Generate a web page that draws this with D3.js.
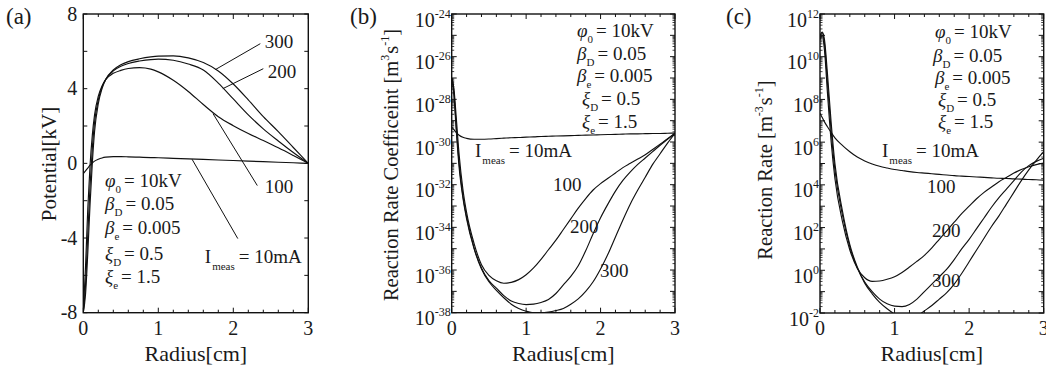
<!DOCTYPE html>
<html>
<head>
<meta charset="utf-8">
<script src="https://cdn.jsdelivr.net/npm/d3@7"></script>
<style>
  body { margin: 0; background: #fff; }
</style>
</head>
<body>
<script>
// ---- Potential profiles, panel (a) ----
const radiusA = [0, 0.03, 0.06, 0.09, 0.12, 0.15, 0.2, 0.25, 0.3, 0.4, 0.5, 0.6, 0.75, 0.9, 1.0, 1.2, 1.4, 1.6, 1.8, 2.0, 2.2, 2.4, 2.6, 2.8, 3.0];
const potential10mA = [-0.55, -0.4, -0.25, -0.1, 0.02, 0.12, 0.22, 0.29, 0.33, 0.36, 0.36, 0.35, 0.33, 0.31, 0.3, 0.27, 0.24, 0.21, 0.18, 0.15, 0.12, 0.09, 0.06, 0.03, 0];
const potential100 = [-8, -5.5, -2.4, -0.1, 1.5, 2.6, 3.6, 4.15, 4.5, 4.82, 4.98, 5.08, 5.13, 5.05, 4.9, 4.45, 3.85, 3.15, 2.5, 2.02, 1.6, 1.22, 0.83, 0.42, 0];
const potential200 = [-8, -6.5, -3.8, -1.2, 0.8, 2.2, 3.4, 4.1, 4.5, 4.95, 5.2, 5.35, 5.48, 5.56, 5.58, 5.52, 5.32, 5.0, 4.3, 3.45, 2.6, 1.85, 1.2, 0.58, 0];
const potential300 = [-8, -7, -4.8, -2.2, 0, 1.7, 3.2, 4.0, 4.5, 5.0, 5.28, 5.45, 5.6, 5.7, 5.74, 5.76, 5.65, 5.4, 4.95, 4.25, 3.4, 2.5, 1.7, 0.85, 0];

// ---- Reaction rate coefficient (b) and reaction rate (c): log10 of the value ----
const radiusBC = [0, 0.03, 0.06, 0.1, 0.15, 0.2, 0.3, 0.4, 0.5, 0.6, 0.7, 0.8, 0.9, 1.0, 1.1, 1.2, 1.3, 1.4, 1.5, 1.6, 1.7, 1.8, 1.9, 2.0, 2.1, 2.2, 2.3, 2.4, 2.5, 2.6, 2.7, 2.8, 2.9, 3.0];
const coefExp10mA = [-29.3, -29.42, -29.55, -29.68, -29.78, -29.83, -29.87, -29.87, -29.86, -29.84, -29.82, -29.8, -29.79, -29.77, -29.76, -29.74, -29.73, -29.72, -29.71, -29.7, -29.69, -29.68, -29.67, -29.66, -29.65, -29.64, -29.63, -29.62, -29.62, -29.61, -29.6, -29.6, -29.59, -29.58];
const coefExp100 = [-27.0, -27.5, -28.8, -30.6, -32.2, -33.3, -34.75, -35.75, -36.25, -36.5, -36.62, -36.58, -36.45, -36.22, -35.9, -35.5, -35.05, -34.6, -34.1, -33.6, -33.1, -32.65, -32.25, -31.95, -31.7, -31.45, -31.2, -31.0, -30.8, -30.6, -30.35, -30.1, -29.85, -29.59];
const coefExp200 = [-27.0, -27.7, -29.2, -31.0, -32.5, -33.5, -34.95, -35.9, -36.5, -36.85, -37.2, -37.45, -37.57, -37.62, -37.6, -37.52, -37.38, -37.1, -36.7, -36.3, -35.8, -35.1, -34.3, -33.55, -32.9, -32.3, -31.8, -31.4, -31.05, -30.75, -30.45, -30.15, -29.87, -29.59];
const coefExp300 = [-27.0, -27.8, -29.4, -31.2, -32.6, -33.6, -35.0, -35.95, -36.55, -36.95, -37.3, -37.6, -37.8, -37.93, -38.0, -38.0, -37.97, -37.9, -37.8, -37.6, -37.35, -37.0, -36.55, -35.95, -35.25, -34.45, -33.65, -32.9, -32.25, -31.65, -31.05, -30.55, -30.05, -29.59];
const rateExp10mA = [7.35, 7.15, 6.95, 6.72, 6.45, 6.2, 5.85, 5.55, 5.3, 5.12, 4.98, 4.87, 4.79, 4.72, 4.67, 4.62, 4.58, 4.55, 4.52, 4.49, 4.46, 4.43, 4.41, 4.39, 4.37, 4.35, 4.33, 4.31, 4.3, 4.28, 4.27, 4.25, 4.24, 4.22];
const rateExp100 = [10.8, 11.0, 10.3, 8.3, 6.0, 4.3, 2.3, 0.95, 0.1, -0.35, -0.52, -0.5, -0.42, -0.3, -0.1, 0.15, 0.42, 0.7, 1.05, 1.45, 1.85, 2.25, 2.65, 3.0, 3.35, 3.65, 3.9, 4.15, 4.35, 4.55, 4.72, 4.85, 4.95, 5.02];
const rateExp200 = [10.9, 11.1, 10.6, 8.8, 6.5, 4.7, 2.6, 1.1, 0.1, -0.55, -1.0, -1.35, -1.57, -1.68, -1.7, -1.6, -1.35, -1.0, -0.65, -0.3, 0.05, 0.5, 1.0, 1.45, 1.95, 2.45, 2.95, 3.4, 3.8, 4.2, 4.6, 4.9, 5.1, 5.25];
const rateExp300 = [11.0, 11.15, 10.8, 9.2, 6.9, 5.0, 2.8, 1.2, 0.15, -0.6, -1.1, -1.5, -1.8, -2.05, -2.2, -2.25, -2.15, -1.9, -1.65, -1.35, -1.05, -0.65, -0.15, 0.4, 0.95, 1.5, 2.05, 2.55, 3.1, 3.65, 4.2, 4.7, 5.15, 5.55];

// ---- Axis ticks and labels ----
const radiusTicks = [0, 1, 2, 3];
const potentialTicks = [-8, -4, 0, 4, 8];
const coefDecadeLabels = [-38, -36, -34, -32, -30, -28, -26, -24];
const rateDecadeLabels = [-2, 0, 2, 4, 6, 8, 10, 12];

// ---- Parameter block ----
const paramSymbols = ["φ", "β", "β", "ξ", "ξ"];
const paramSubs = ["0", "D", "e", "D", "e"];
const paramValues = ["= 10kV", "= 0.05", "= 0.005", "= 0.5", "= 1.5"];

const W = 1046, H = 373;
const SERIF = "'Liberation Serif', 'Tinos', 'Times New Roman', 'DejaVu Serif', serif";
const svg = d3.select("body").append("svg").attr("width", W).attr("height", H)
  .attr("font-family", SERIF).style("font-family", SERIF);
const INK = "#111";

const toPoints = (rs, vs, log) => rs.map((r, i) => ({ r, v: log ? Math.pow(10, vs[i]) : vs[i] }));

function txt(g) {
  return g.append("text").attr("font-family", SERIF).attr("fill", "#1a1a1a");
}

function drawFrame(g, x, y) {
  const [x0, x1] = x.range(), [y0, y1] = y.range();
  g.append("rect").attr("x", x0).attr("y", y1).attr("width", x1 - x0).attr("height", y0 - y1)
    .attr("fill", "none").attr("stroke", INK).attr("stroke-width", 1.4);
}

function tick(g, x1, y1, x2, y2, w) {
  g.append("line").attr("x1", x1).attr("y1", y1).attr("x2", x2).attr("y2", y2)
    .attr("stroke", INK).attr("stroke-width", w || 1);
}

function drawXAxis(g, x, y) {
  const [y0, y1] = y.range();
  d3.range(0, 3.0001, 0.2).forEach(v => {
    const major = Math.abs(v - Math.round(v)) < 1e-6;
    const len = major ? 5 : 3;
    tick(g, x(v), y0, x(v), y0 - len);
    tick(g, x(v), y1, x(v), y1 + len);
  });
  radiusTicks.forEach(v => {
    txt(g).attr("x", x(v)).attr("y", y0 + 22).attr("text-anchor", "middle")
      .attr("font-size", 20).text(v);
  });
}

function drawLogYAxis(g, x, y, labelExps) {
  const [x0, x1] = x.range();
  const [lo, hi] = y.domain().map(Math.log10);
  for (let k = Math.round(lo); k <= Math.round(hi); k++) {
    tick(g, x0, y(Math.pow(10, k)), x0 + 5, y(Math.pow(10, k)));
    tick(g, x1, y(Math.pow(10, k)), x1 - 5, y(Math.pow(10, k)));
    if (k < Math.round(hi)) {
      for (let m = 2; m <= 9; m++) {
        const yy = y(m * Math.pow(10, k));
        tick(g, x0, yy, x0 + 2.5, yy, 0.8);
        tick(g, x1, yy, x1 - 2.5, yy, 0.8);
      }
    }
  }
  labelExps.forEach(k => {
    const t = txt(g).attr("x", x0 - 1).attr("y", y(Math.pow(10, k)) + 12.5)
      .attr("text-anchor", "end").attr("font-size", 20);
    t.append("tspan").text("10");
    t.append("tspan").attr("font-size", 12).attr("dy", -9).text(k);
  });
}

function drawCurves(g, x, y, series, clipId) {
  const [x0, x1] = x.range(), [y0, y1] = y.range();
  g.append("clipPath").attr("id", clipId).append("rect")
    .attr("x", x0).attr("y", y1).attr("width", x1 - x0).attr("height", y0 - y1);
  const line = d3.line().x(d => x(d.r)).y(d => y(d.v)).curve(d3.curveMonotoneX);
  const cg = g.append("g").attr("clip-path", `url(#${clipId})`);
  series.forEach(s => {
    cg.append("path").datum(s).attr("d", line).attr("fill", "none")
      .attr("stroke", INK).attr("stroke-width", 1.15);
  });
}

function drawParams(g, xs, baselines) {
  paramSymbols.forEach((sym, i) => {
    const t = txt(g).attr("x", xs[i]).attr("y", baselines[i]).attr("font-size", 19);
    t.append("tspan").attr("font-style", "italic").text(sym);
    t.append("tspan").attr("font-size", 11).attr("dy", 6).text(paramSubs[i]);
    t.append("tspan").attr("dy", -6).attr("dx", 3).text(paramValues[i]);
  });
}

function drawCurrentLabel(g, xPos, yPos) {
  const t = txt(g).attr("x", xPos).attr("y", yPos).attr("font-size", 19);
  t.append("tspan").text("I");
  t.append("tspan").attr("font-size", 11).attr("dy", 7).attr("dx", 1).text("meas");
  t.append("tspan").attr("dy", -7).attr("dx", 4).text("= 10mA");
}

function plainLabel(g, xPos, yPos, s) {
  txt(g).attr("x", xPos).attr("y", yPos).attr("font-size", 19).text(s);
}

function panelTag(g, xPos, s) {
  txt(g).attr("x", xPos).attr("y", 24).attr("font-size", 23).text(s);
}

function xTitle(g, x) {
  const [x0, x1] = x.range();
  txt(g).attr("x", (x0 + x1) / 2).attr("y", 361).attr("text-anchor", "middle")
    .attr("font-size", 22).text("Radius[cm]");
}

// ================= Panel (a) =================
{
  const g = svg.append("g");
  const x = d3.scaleLinear().domain([0, 3]).range([83.3, 308.3]);
  const y = d3.scaleLinear().domain([-8, 8]).range([312.7, 14]);
  drawCurves(g, x, y, [
    toPoints(radiusA, potential10mA), toPoints(radiusA, potential100),
    toPoints(radiusA, potential200), toPoints(radiusA, potential300)], "clipA");
  drawFrame(g, x, y);
  drawXAxis(g, x, y);
  d3.range(-8, 8.001, 2).forEach(v => {
    tick(g, x.range()[0], y(v), x.range()[0] + 4, y(v));
    tick(g, x.range()[1], y(v), x.range()[1] - 4, y(v));
  });
  potentialTicks.forEach(v => {
    txt(g).attr("x", x.range()[0] - 6).attr("y", y(v) + 6.5).attr("text-anchor", "end")
      .attr("font-size", 20).text(v);
  });
  txt(g).attr("transform", `translate(56,${164}) rotate(-90)`).attr("text-anchor", "middle")
    .attr("font-size", 21).text("Potential[kV]");
  xTitle(g, x);
  panelTag(g, 6, "(a)");

  // leader lines from labels to curves (data coordinates)
  const leaders = [[2.36, 6.41, 1.76, 5.02], [2.40, 5.07, 1.86, 4.0], [2.32, -1.19, 1.73, 2.66], [2.06, -4.03, 1.45, 0.22]];
  leaders.forEach(([ra, va, rb, vb]) => tick(g, x(ra), y(va), x(rb), y(vb), 1));
  plainLabel(g, x(2.42), y(6.2), "300");
  plainLabel(g, x(2.46), y(4.59), "200");
  plainLabel(g, x(2.42), y(-1.57), "100");
  drawCurrentLabel(g, x(1.62), y(-5.32));
  drawParams(g, [105, 105, 105, 105, 105], [187, 210, 234, 260, 283]);
}

// ================= Panel (b) =================
{
  const g = svg.append("g");
  const x = d3.scaleLinear().domain([0, 3]).range([451.7, 675]);
  const y = d3.scaleLog().domain([1e-38, 1e-24]).range([312.7, 14]);
  drawCurves(g, x, y, [
    toPoints(radiusBC, coefExp10mA, true), toPoints(radiusBC, coefExp100, true),
    toPoints(radiusBC, coefExp200, true), toPoints(radiusBC, coefExp300, true)], "clipB");
  drawFrame(g, x, y);
  drawXAxis(g, x, y);
  drawLogYAxis(g, x, y, coefDecadeLabels);
  const t = txt(g).attr("transform", `translate(398,${165}) rotate(-90)`)
    .attr("text-anchor", "middle").attr("font-size", 20.5);
  t.append("tspan").text("Reaction Rate Coefficeint [m");
  t.append("tspan").attr("font-size", 12).attr("dy", -9).text("3");
  t.append("tspan").attr("dy", 9).attr("dx", 1).text("s");
  t.append("tspan").attr("font-size", 12).attr("dy", -9).text("-1");
  t.append("tspan").attr("dy", 9).text("]");
  xTitle(g, x);
  panelTag(g, 350, "(b)");
  plainLabel(g, 553, 191, "100");
  plainLabel(g, 570, 233, "200");
  plainLabel(g, 600, 277, "300");
  drawCurrentLabel(g, 475, 157);
  drawParams(g, [577, 577, 577, 582, 582], [37, 60, 82, 105, 128]);
}

// ================= Panel (c) =================
{
  const g = svg.append("g");
  const x = d3.scaleLinear().domain([0, 3]).range([820, 1043.7]);
  const y = d3.scaleLog().domain([1e-2, 1e12]).range([313, 14]);
  drawCurves(g, x, y, [
    toPoints(radiusBC, rateExp10mA, true), toPoints(radiusBC, rateExp100, true),
    toPoints(radiusBC, rateExp200, true), toPoints(radiusBC, rateExp300, true)], "clipC");
  drawFrame(g, x, y);
  drawXAxis(g, x, y);
  drawLogYAxis(g, x, y, rateDecadeLabels);
  const t = txt(g).attr("transform", `translate(772,${170}) rotate(-90)`)
    .attr("text-anchor", "middle").attr("font-size", 20.5);
  t.append("tspan").text("Reaction Rate [m");
  t.append("tspan").attr("font-size", 12).attr("dy", -9).text("-3");
  t.append("tspan").attr("dy", 9).attr("dx", 1).text("s");
  t.append("tspan").attr("font-size", 12).attr("dy", -9).text("-1");
  t.append("tspan").attr("dy", 9).text("]");
  xTitle(g, x);
  panelTag(g, 726, "(c)");
  plainLabel(g, 927, 193, "100");
  plainLabel(g, 932, 237, "200");
  plainLabel(g, 932, 287, "300");
  drawCurrentLabel(g, 882, 157);
  drawParams(g, [935, 933, 935, 938, 938], [38, 62, 84, 106, 128]);
}
</script>
</body>
</html>
